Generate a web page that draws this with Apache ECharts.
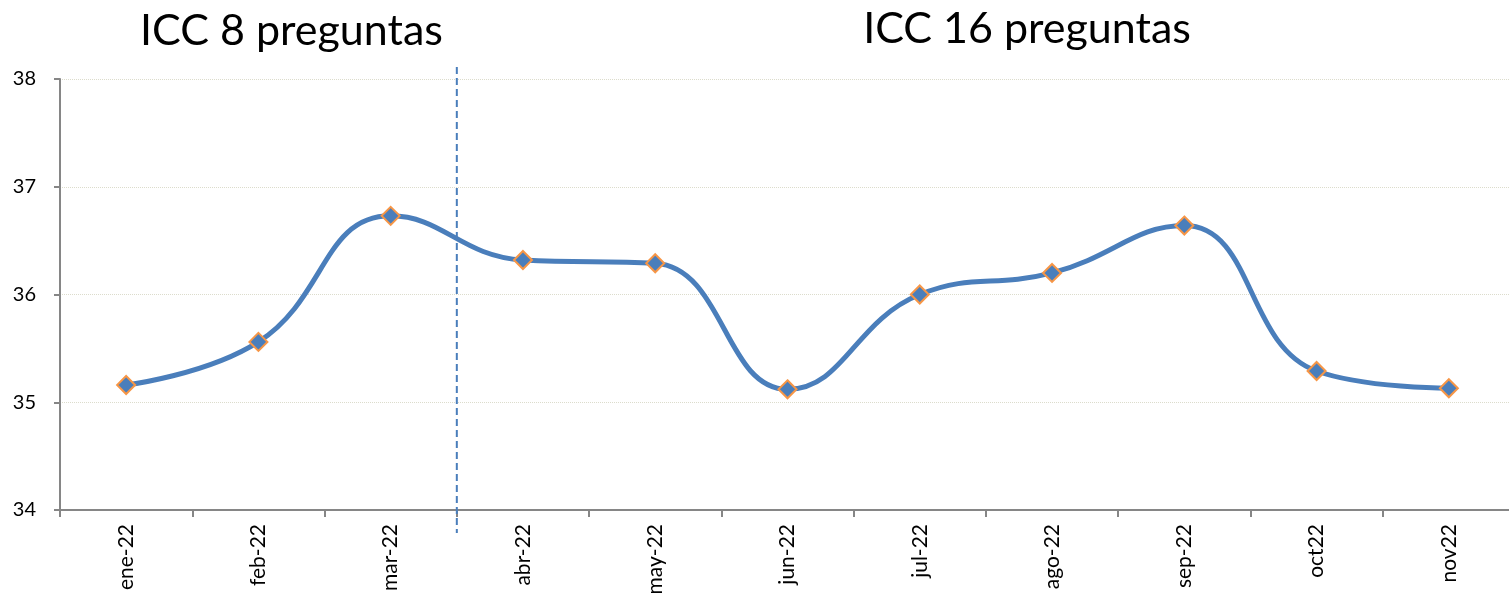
<!DOCTYPE html>
<html>
<head>
<meta charset="utf-8">
<script src="https://cdn.jsdelivr.net/npm/echarts@6/dist/echarts.min.js"></script>
<style>
  html, body { margin: 0; padding: 0; background: #fff; }
  #main { width: 1509px; height: 594px; }
</style>
</head>
<body>
<div id="main"></div>
<script>
const months = ['ene-22', 'feb-22', 'mar-22', 'abr-22', 'may-22', 'jun-22', 'jul-22', 'ago-22', 'sep-22', 'oct22', 'nov22'];
const icc = [35.16, 35.56, 36.73, 36.32, 36.29, 35.12, 36.0, 36.2, 36.64, 35.29, 35.13];
const yTicks = [34, 35, 36, 37, 38];
const sectionTitles = ['ICC 8 preguntas', 'ICC 16 preguntas'];
const splitAfter = 'mar-22';

const myChart = echarts.init(document.getElementById('main'));
const font = 'Lato, "Open Sans", sans-serif';

let option = {
    animation: false,
    grid: { left: 60, right: -6, top: 79, bottom: 84, containLabel: false, outerBoundsMode: 'none' },
    xAxis: {
        type: 'category',
        data: months,
        boundaryGap: true,
        axisLine: { lineStyle: { color: '#868686', width: 2 } },
        axisTick: { show: true, length: 7, alignWithLabel: false, lineStyle: { color: '#868686', width: 2 } },
        axisLabel: { rotate: 90, color: '#000', fontSize: 21, fontFamily: font, margin: 14 },
        splitLine: { show: false }
    },
    yAxis: {
        type: 'value',
        min: yTicks[0],
        max: yTicks[yTicks.length - 1],
        interval: 1,
        axisLine: { show: true, lineStyle: { color: '#868686', width: 2 } },
        axisTick: { show: true, length: 6, lineStyle: { color: '#868686', width: 2 } },
        axisLabel: { color: '#000', fontSize: 20, fontFamily: font, margin: 24 },
        splitLine: { show: true, lineStyle: { color: '#dcdccc', type: 'dotted', width: 1 } }
    },
    series: [{
        type: 'line',
        data: icc,
        smooth: 0.45,
        symbol: 'diamond',
        symbolSize: 18,
        lineStyle: { color: '#4a7ebb', width: 5 },
        itemStyle: { color: '#4a7ebb', borderColor: '#f79646', borderWidth: 2 }
    }]
};

myChart.setOption(option);

// dashed divider between the two survey versions, placed from the axis scale
const i = months.indexOf(splitAfter);
const xa = myChart.convertToPixel({ xAxisIndex: 0 }, months[i]);
const xb = myChart.convertToPixel({ xAxisIndex: 0 }, months[i + 1]);
const xSplit = (xa + xb) / 2;
const yTop = myChart.convertToPixel({ yAxisIndex: 0 }, yTicks[yTicks.length - 1]) - 12;
const yBottom = myChart.convertToPixel({ yAxisIndex: 0 }, yTicks[0]) + 23;
const xFirst = myChart.convertToPixel({ xAxisIndex: 0 }, months[0]);
const xAgo = myChart.convertToPixel({ xAxisIndex: 0 }, 'ago-22');

myChart.setOption({
    graphic: [
        {
            type: 'line',
            shape: { x1: xSplit, y1: yTop, x2: xSplit, y2: yBottom },
            style: { stroke: '#4a7ebb', lineWidth: 2, lineDash: [7, 4] },
            z: 10
        },
        {
            type: 'text',
            x: (xFirst + xSplit) / 2,
            y: 31,
            style: { text: sectionTitles[0], font: '43px ' + font, fill: '#000', textAlign: 'center', textVerticalAlign: 'middle' }
        },
        {
            type: 'text',
            x: xAgo - 25,
            y: 29,
            style: { text: sectionTitles[1], font: '43px ' + font, fill: '#000', textAlign: 'center', textVerticalAlign: 'middle' }
        }
    ]
});
</script>
</body>
</html>
